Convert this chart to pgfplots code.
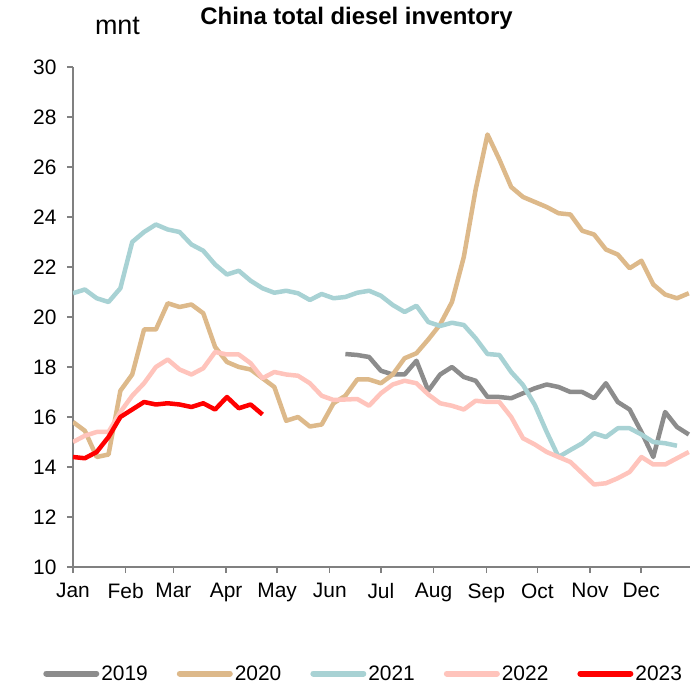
\documentclass[border=0pt]{standalone}
\usepackage{fontspec}
\setmainfont{Liberation Sans}
\usepackage{pgfplots}
\pgfplotsset{compat=1.18}
\definecolor{c19}{RGB}{140,140,140}
\definecolor{c20}{RGB}{221,185,138}
\definecolor{c21}{RGB}{168,210,212}
\definecolor{c22}{RGB}{255,196,188}
\definecolor{c23}{RGB}{255,0,0}
\definecolor{axgray}{RGB}{128,128,128}
\begin{document}
\begin{tikzpicture}
\begin{axis}[name=ax, scale only axis, width=617bp, height=500bp,
  xmin=0, xmax=52.1, ymin=10, ymax=30,
  ytick={10,12,...,30},
  xtick={0,4.452,8.474,12.927,17.236,21.688,25.997,30.450,34.902,39.211,43.664,47.973},
  xticklabels={Jan,Feb,Mar,Apr,May,Jun,Jul,Aug,Sep,Oct,Nov,Dec},
  axis x line*=bottom, axis y line*=left,
  tick align=outside, major tick length=6bp,
  axis line style={axgray, line width=1.3bp},
  tick style={axgray, line width=1.3bp},
  tick label style={font=\fontsize{21}{24}\selectfont},
  xticklabel style={yshift=-7bp},
  yticklabel style={xshift=-7bp},
  /pgf/number format/assume math mode=true,
  every axis plot/.append style={line width=4.5bp, line join=round, no markers},
  legend style={at={(0.471,-0.213)}, anchor=center, legend columns=5, draw=none,
    font=\fontsize{21}{24}\selectfont,
    /tikz/every even column/.append style={column sep=27bp}},
  legend image code/.code={\draw[#1, line width=6bp, line cap=round] (0bp,0bp) -- (50bp,0bp);},
]
\addplot[c19] coordinates {
(23,18.52)(24,18.48)(25,18.4)(26,17.85)(27,17.7)(28,17.7)(29,18.25)(30,17.05)(31,17.7)(32,18.0)
(33,17.6)(34,17.45)(35,16.8)(36,16.8)(37,16.75)(38,16.95)(39,17.15)(40,17.3)(41,17.2)(42,17.0)
(43,17.0)(44,16.75)(45,17.35)(46,16.6)(47,16.3)(48,15.4)(49,14.4)(50,16.2)(51,15.6)(52,15.3)};
\addlegendentry{2019}
\addplot[c20] coordinates {
(0,15.8)(1,15.45)(2,14.4)(3,14.5)(4,17.05)(5,17.7)(6,19.5)(7,19.5)(8,20.55)(9,20.4)
(10,20.5)(11,20.15)(12,18.8)(13,18.2)(14,18.0)(15,17.9)(16,17.55)(17,17.2)(18,15.85)(19,16.0)
(20,15.62)(21,15.7)(22,16.55)(23,16.85)(24,17.5)(25,17.5)(26,17.35)(27,17.7)(28,18.35)(29,18.55)
(30,19.1)(31,19.7)(32,20.6)(33,22.4)(34,25.1)(35,27.3)(36,26.3)(37,25.2)(38,24.8)(39,24.6)
(40,24.4)(41,24.15)(42,24.1)(43,23.45)(44,23.3)(45,22.7)(46,22.5)(47,21.95)(48,22.25)(49,21.3)
(50,20.9)(51,20.75)(52,20.95)};
\addlegendentry{2020}
\addplot[c21] coordinates {
(0,20.95)(1,21.1)(2,20.75)(3,20.6)(4,21.15)(5,23.0)(6,23.4)(7,23.7)(8,23.5)(9,23.4)
(10,22.9)(11,22.65)(12,22.1)(13,21.7)(14,21.85)(15,21.45)(16,21.15)(17,20.97)(18,21.05)(19,20.95)
(20,20.68)(21,20.92)(22,20.75)(23,20.8)(24,20.97)(25,21.05)(26,20.85)(27,20.48)(28,20.2)(29,20.45)
(30,19.8)(31,19.64)(32,19.77)(33,19.68)(34,19.15)(35,18.52)(36,18.48)(37,17.8)(38,17.28)(39,16.48)
(40,15.4)(41,14.4)(42,14.68)(43,14.95)(44,15.35)(45,15.2)(46,15.55)(47,15.55)(48,15.3)(49,15.0)
(50,14.95)(51,14.85)};
\addlegendentry{2021}
\addplot[c22] coordinates {
(0,15.0)(1,15.25)(2,15.4)(3,15.4)(4,16.2)(5,16.85)(6,17.35)(7,18.0)(8,18.3)(9,17.9)
(10,17.7)(11,17.95)(12,18.6)(13,18.5)(14,18.5)(15,18.15)(16,17.55)(17,17.8)(18,17.7)(19,17.65)
(20,17.35)(21,16.85)(22,16.68)(23,16.7)(24,16.72)(25,16.45)(26,16.95)(27,17.3)(28,17.45)(29,17.35)
(30,16.9)(31,16.55)(32,16.45)(33,16.3)(34,16.65)(35,16.6)(36,16.6)(37,16.0)(38,15.15)(39,14.9)
(40,14.6)(41,14.4)(42,14.2)(43,13.75)(44,13.3)(45,13.35)(46,13.55)(47,13.8)(48,14.4)(49,14.1)
(50,14.1)(51,14.35)(52,14.6)};
\addlegendentry{2022}
\addplot[c23] coordinates {
(0,14.4)(1,14.35)(2,14.6)(3,15.2)(4,16.0)(5,16.3)(6,16.6)(7,16.5)(8,16.55)(9,16.5)
(10,16.4)(11,16.55)(12,16.3)(13,16.8)(14,16.35)(15,16.5)(16,16.1)};
\addlegendentry{2023}
\end{axis}
\node[font=\bfseries\fontsize{24}{27}\selectfont] at ([xshift=283.5bp,yshift=49bp]ax.north west) {China total diesel inventory};
\node[font=\fontsize{27}{30}\selectfont] at ([xshift=44.5bp,yshift=41bp]ax.north west) {mnt};
\pgfresetboundingbox
\path[use as bounding box] ([xshift=-73bp,yshift=-122bp]ax.south west) rectangle ([xshift=6bp,yshift=67bp]ax.north east);
\end{tikzpicture}
\end{document}
